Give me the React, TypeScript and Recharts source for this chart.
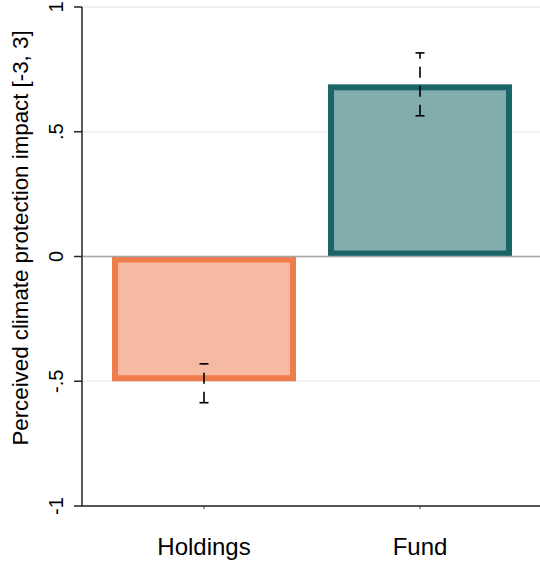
import React from 'react';
import {
  BarChart,
  Bar,
  XAxis,
  YAxis,
  CartesianGrid,
  ReferenceLine,
  ErrorBar,
  Cell,
} from 'recharts';

// Categories and their estimated mean effects with confidence interval spans
const categories = ['Holdings', 'Fund'];
const means = [-0.5, 0.69];
// [distance below mean, distance above mean]
const ciSpans: [number, number][] = [
  [0.086, 0.07],
  [0.126, 0.126],
];
const fillColors = ['#F6B9A1', '#82ADAF'];
const edgeColors = ['#EF7C4B', '#1B6468'];

const yTicks = [-1, -0.5, 0, 0.5, 1];
const yTickLabels = ['-1', '-.5', '0', '.5', '1'];

const data = categories.map((name, i) => ({
  name,
  value: means[i],
  ci: ciSpans[i],
}));

const FONT = 'Arial, "Liberation Sans", Helvetica, sans-serif';

// Bar with the outline drawn fully inside its rectangle
const InsetBar = (props: any) => {
  const { x, y, width, height, index } = props;
  const sw = 6;
  const top = height < 0 ? y + height : y;
  const h = Math.abs(height);
  return (
    <rect
      x={x + sw / 2}
      y={top + sw / 2}
      width={Math.max(width - sw, 0)}
      height={Math.max(h - sw, 0)}
      fill={fillColors[index]}
      stroke={edgeColors[index]}
      strokeWidth={sw}
    />
  );
};

const YTick = (props: any) => {
  const { y, payload } = props;
  const idx = yTicks.indexOf(payload.value);
  const cx = 56;
  return (
    <text
      x={cx}
      y={y}
      transform={`rotate(-90, ${cx}, ${y})`}
      textAnchor="middle"
      dominantBaseline="central"
      fontFamily={FONT}
      fontSize={20}
      fill="#000"
    >
      {yTickLabels[idx]}
    </text>
  );
};

const XTick = (props: any) => {
  const { x, y, payload } = props;
  return (
    <g>
      <line x1={x} y1={y - 8} x2={x} y2={y - 5} stroke="#333" strokeWidth={1} />
      <text
        x={x}
        y={555}
        textAnchor="middle"
        fontFamily={FONT}
        fontSize={24}
        fill="#000"
      >
        {payload.value}
      </text>
    </g>
  );
};

export default function App() {
  return (
    <div style={{ position: 'absolute', left: 0, top: 0, width: 540, height: 562, background: '#fff' }}>
      <BarChart
        width={540}
        height={562}
        data={data}
        margin={{ top: 7, right: 0, left: 0, bottom: 0 }}
        barSize={184}
      >
        <CartesianGrid vertical={false} stroke="#E8F0F2" strokeWidth={1.5} />
        <XAxis
          dataKey="name"
          height={56}
          padding={{ left: 14, right: 12 }}
          axisLine={{ stroke: '#222', strokeWidth: 1.5 }}
          tickLine={false}
          tick={<XTick />}
          interval={0}
        />
        <YAxis
          width={82}
          domain={[-1, 1]}
          ticks={yTicks}
          axisLine={{ stroke: '#222', strokeWidth: 1.5 }}
          tickLine={{ stroke: '#222', strokeWidth: 1.5 }}
          tickSize={8}
          tick={<YTick />}
          interval={0}
        />
        <ReferenceLine y={0} stroke="#A6A6A6" strokeWidth={1.5} />
        <Bar dataKey="value" isAnimationActive={false} shape={<InsetBar />}>
          {data.map((d, i) => (
            <Cell key={d.name} fill={fillColors[i]} />
          ))}
          <ErrorBar
            dataKey="ci"
            width={4.5}
            stroke="#000"
            strokeWidth={1.6}
            strokeDasharray="11 8"
          />
        </Bar>
        <text
          x={20}
          y={238}
          transform="rotate(-90, 20, 238)"
          textAnchor="middle"
          dominantBaseline="central"
          fontFamily={FONT}
          fontSize={22.3}
          fill="#000"
        >
          Perceived climate protection impact [-3, 3]
        </text>
      </BarChart>
    </div>
  );
}
